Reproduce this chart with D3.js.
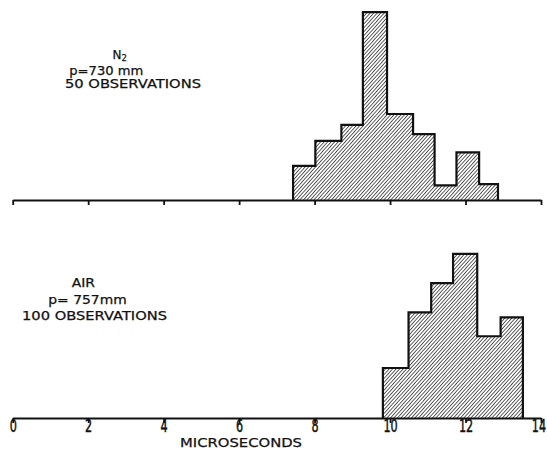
<!DOCTYPE html>
<html>
<head>
<meta charset="utf-8">
<script src="https://cdn.jsdelivr.net/npm/d3@7"></script>
<style>
  body { margin: 0; background: #fff; }
  svg text { font-family: "DejaVu Sans", "Liberation Sans", sans-serif; fill: #111; }
</style>
</head>
<body>
<div id="main"></div>
<script>
var width = 547, height = 450;

// histogram bin edges (microseconds) and heights (% of observations)
var n2Edges = [7.43, 8.02, 8.71, 9.28, 9.92, 10.61, 11.18, 11.76, 12.36, 12.86];
var n2Pct = [5.6, 9.7, 12.3, 30.8, 14.1, 10.8, 2.4, 7.8, 2.6];
var airEdges = [9.81, 10.49, 11.09, 11.67, 12.31, 12.93, 13.52];
var airPct = [8.2, 17.3, 22.1, 26.9, 13.4, 16.5];
var xTicks = [0, 2, 4, 6, 8, 10, 12, 14];

var svg = d3.select("#main")
  .append("svg")
  .attr("width", width)
  .attr("height", height);

var defs = svg.append("defs");
defs.append("pattern")
  .attr("id", "hatch")
  .attr("patternUnits", "userSpaceOnUse")
  .attr("width", 2.6)
  .attr("height", 2.6)
  .attr("patternTransform", "rotate(42)")
  .append("line")
  .attr("x1", 0).attr("y1", 0)
  .attr("x2", 0).attr("y2", 2.6)
  .style("stroke", "#111")
  .style("stroke-width", 1.35);

var x = d3.scaleLinear()
  .domain([0, 14])
  .range([12.7, 541]);

var h = d3.scaleLinear()
  .domain([0, 30])
  .range([0, 183]);

function panel(base, edges, vals) {
  var pts = [[edges[0], 0]];
  vals.forEach(function(v, i) {
    pts.push([edges[i], v]);
    pts.push([edges[i + 1], v]);
  });
  pts.push([edges[edges.length - 1], 0]);

  svg.append("path")
    .datum(pts)
    .attr("d", d3.line()
      .x(d => x(d[0]))
      .y(d => base - h(d[1])))
    .style("fill", "url(#hatch)")
    .style("stroke", "#111")
    .style("stroke-width", 2.2)
    .style("stroke-linejoin", "miter");

  var ax = svg.append("g")
    .attr("transform", "translate(0," + base + ")")
    .call(d3.axisBottom(x)
      .tickValues(xTicks)
      .tickSize(5)
      .tickSizeOuter(0)
      .tickFormat(""));
  ax.select(".domain")
    .style("stroke", "#111")
    .style("stroke-width", 2.2);
  ax.selectAll(".tick line")
    .style("stroke", "#111")
    .style("stroke-width", 1.8);
  return ax;
}

panel(200, n2Edges, n2Pct);
var bottomAxis = panel(418, airEdges, airPct);

// tick labels on the lower axis only
bottomAxis.selectAll(".tick")
  .append("text")
  .attr("x", d => d === 14 ? -4 : 0)
  .attr("y", 14)
  .attr("transform", "scale(0.64,1)")
  .style("text-anchor", "middle")
  .style("font-size", "17.5px")
  .style("fill", "#111")
  .style("stroke", "#111")
  .style("stroke-width", 0.5)
  .text(d => d);

function label(txt, xx, yy, len) {
  var t = svg.append("text")
    .attr("x", xx)
    .attr("y", yy)
    .style("font-size", "12px")
    .style("stroke", "#111")
    .style("stroke-width", 0.25)
    .text(txt);
  if (len) t.attr("textLength", len).attr("lengthAdjust", "spacingAndGlyphs");
  return t;
}

var n2 = svg.append("text")
  .attr("x", 112.5)
  .attr("y", 59)
  .style("font-size", "12px")
  .style("stroke", "#111")
  .style("stroke-width", 0.25);
n2.append("tspan").text("N");
n2.append("tspan")
  .attr("dy", 2)
  .style("font-size", "8.5px")
  .text("2");

label("p=730 mm", 69.3, 74.8, 74);
label("50 OBSERVATIONS", 65, 87.8, 136);

label("AIR", 71.7, 286.7, 23.3);
label("p= 757mm", 48.3, 304.3, 78.4);
label("100 OBSERVATIONS", 22, 320, 145);

label("MICROSECONDS", 180, 447, 122);
</script>
</body>
</html>
